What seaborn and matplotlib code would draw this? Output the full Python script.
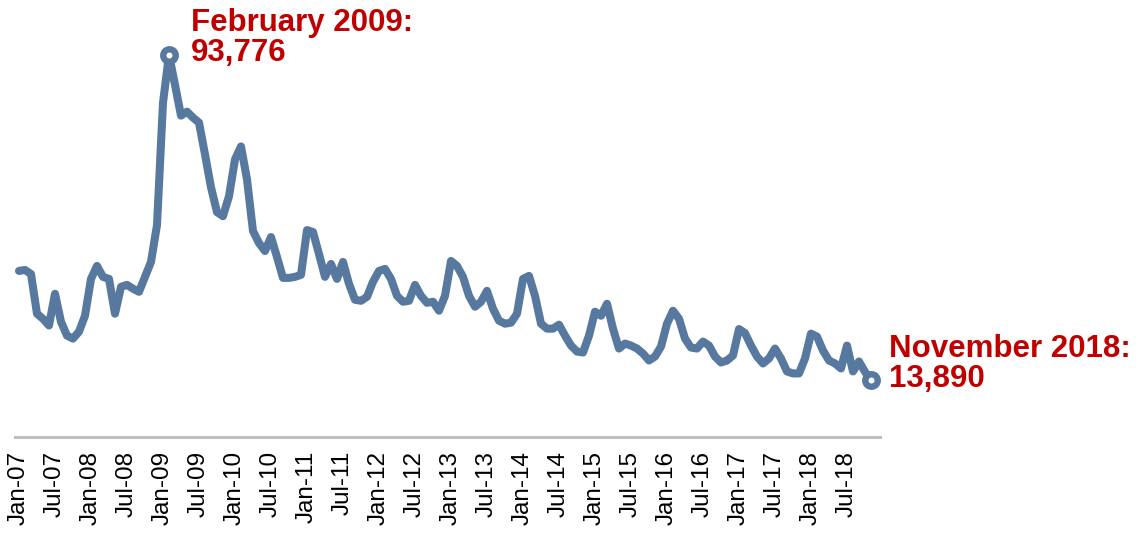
import pandas as pd
import matplotlib
matplotlib.use("Agg")
import matplotlib.pyplot as plt
import seaborn as sns

# monthly values, Jan-2007 .. Nov-2018
y2007 = [40760, 41000, 40000, 30260, 29000, 27370, 35150, 28300, 24880, 24150, 25860, 29760]
y2008 = [38800, 41980, 39300, 38800, 30260, 36850, 37340, 36400, 35630, 39300, 42960, 52000]
y2009 = [82000, 93776, 86440, 78870, 79850, 78380, 77160, 69350, 61290, 55180, 54200, 59090]
y2010 = [68120, 71300, 63240, 50540, 47600, 45650, 49070, 44180, 39050, 39050, 39300, 39800]
y2011 = [50780, 50300, 44920, 39300, 42470, 38800, 42960, 37600, 33680, 33430, 34410, 38070]
y2012 = [40760, 41250, 38800, 34650, 33190, 33430, 37340, 34650, 32940, 33190, 30990, 34650]
y2013 = [43200, 41980, 39300, 34650, 31970, 33190, 35870, 31480, 28550, 27810, 28060, 30260]
y2014 = [38800, 39540, 34650, 27810, 26590, 26590, 27570, 24880, 22440, 20970, 20730, 24880]
y2015 = [30750, 29760, 32700, 26590, 21710, 22930, 22440, 21710, 20490, 18780, 19750, 22190]
y2016 = [27810, 30990, 29030, 24150, 21950, 21710, 23420, 22440, 19750, 18290, 18780, 20000]
y2017 = [26500, 25500, 22440, 19750, 18050, 19270, 21710, 19270, 16090, 15600, 15600, 19270]
y2018 = [25370, 24640, 21220, 18780, 18050, 16820, 22440, 16090, 18540, 16000, 13890]

values = (y2007 + y2008 + y2009 + y2010 + y2011 + y2012 + y2013 + y2014
          + y2015 + y2016 + y2017 + y2018)

tick_labels = ["Jan-07", "Jul-07", "Jan-08", "Jul-08", "Jan-09", "Jul-09",
               "Jan-10", "Jul-10", "Jan-11", "Jul-11", "Jan-12", "Jul-12",
               "Jan-13", "Jul-13", "Jan-14", "Jul-14", "Jan-15", "Jul-15",
               "Jan-16", "Jul-16", "Jan-17", "Jul-17", "Jan-18", "Jul-18"]

df = pd.DataFrame({"month": range(len(values)), "value": values})

LINE = "#57799F"
RED = "#C00000"

sns.set_style("white")
plt.rcParams["font.family"] = ["Liberation Sans", "DejaVu Sans"]

fig = plt.figure(figsize=(11.43, 5.33), dpi=100)
ax = fig.add_axes([0.0131, 0.1801, 0.7568, 0.7645])

sns.lineplot(data=df, x="month", y="value", ax=ax, color=LINE, linewidth=5.8,
             solid_joinstyle="round", solid_capstyle="round")

# open circles at the peak and at the last point
peak = df.loc[df["value"].idxmax()]
last = df.iloc[-1]
for row in (peak, last):
    ax.plot(row["month"], row["value"], "o", ms=9, mew=4.6, mec=LINE,
            mfc="white", clip_on=False, zorder=5)

ax.annotate("February 2009:\n93,776", xy=(peak["month"], peak["value"]),
            xytext=(16, 12), textcoords="offset points", ha="left", va="center",
            color=RED, fontsize=22.5, fontweight="bold", linespacing=1.0)
ax.annotate("November 2018:\n13,890", xy=(last["month"], last["value"]),
            xytext=(13, 12), textcoords="offset points", ha="left", va="center",
            color=RED, fontsize=22.5, fontweight="bold", linespacing=1.0,
            annotation_clip=False)

ax.set_xlim(-0.67, 143.5)
ax.set_ylim(0, 100000)
ax.set_xticks(range(0, len(values), 6)[:len(tick_labels)])
ax.set_xticklabels(tick_labels, rotation=90, fontsize=17.5, color="black")
ax.tick_params(axis="x", length=0, pad=10)
ax.set_yticks([])
ax.set_xlabel("")
ax.set_ylabel("")

for side in ("top", "right", "left"):
    ax.spines[side].set_visible(False)
ax.spines["bottom"].set_color("#BFBFBF")
ax.spines["bottom"].set_linewidth(2.2)

fig.savefig("out.png", dpi=100)
